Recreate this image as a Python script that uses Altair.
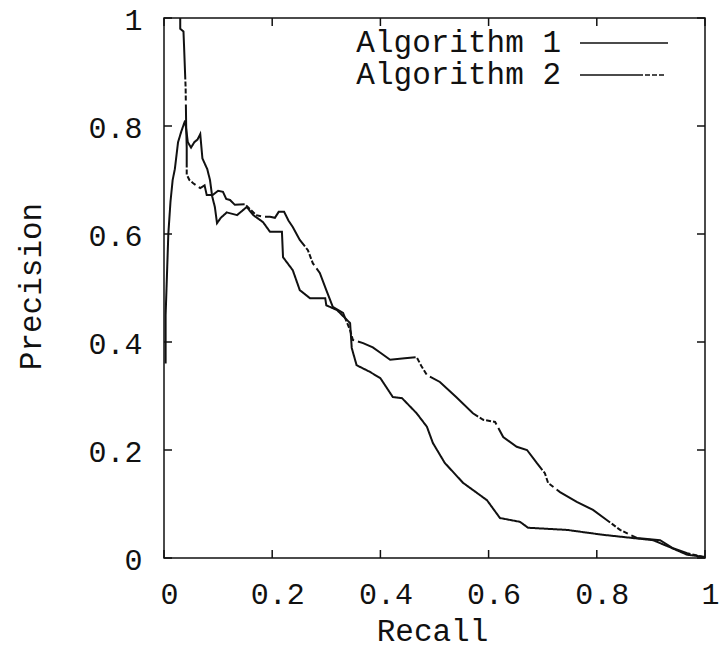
import altair as alt
import pandas as pd

series_names = ["Algorithm 1", "Algorithm 2"]
tick_values = [0, 0.2, 0.4, 0.6, 0.8, 1]

recall_1 = [0.003, 0.003, 0.005, 0.008, 0.012, 0.016, 0.020, 0.026, 0.032, 0.039,
            0.044, 0.050, 0.056, 0.062, 0.067, 0.071, 0.080, 0.085, 0.089, 0.094,
            0.098, 0.105, 0.116, 0.135, 0.153, 0.165, 0.183, 0.196, 0.218, 0.220,
            0.238, 0.251, 0.270, 0.298, 0.300, 0.320, 0.344, 0.347, 0.356, 0.380,
            0.400, 0.423, 0.440, 0.467, 0.486, 0.497, 0.519, 0.553, 0.571, 0.597,
            0.621, 0.658, 0.673, 0.745, 0.811, 0.904, 0.935, 0.967, 1.000]
precision_1 = [0.360, 0.450, 0.510, 0.600, 0.660, 0.700, 0.720, 0.770, 0.790, 0.810,
               0.770, 0.760, 0.770, 0.775, 0.785, 0.740, 0.720, 0.700, 0.670, 0.650,
               0.620, 0.630, 0.640, 0.635, 0.650, 0.635, 0.622, 0.604, 0.604, 0.557,
               0.533, 0.496, 0.481, 0.481, 0.468, 0.459, 0.435, 0.389, 0.357, 0.345,
               0.333, 0.298, 0.296, 0.268, 0.243, 0.213, 0.176, 0.139, 0.126, 0.107,
               0.074, 0.067, 0.056, 0.052, 0.043, 0.033, 0.020, 0.006, 0.002]

recall_2 = [0.030, 0.030, 0.036, 0.037, 0.040, 0.041, 0.042, 0.042, 0.047, 0.054,
            0.067, 0.075, 0.079, 0.090, 0.100, 0.109, 0.115, 0.122, 0.131, 0.150,
            0.160, 0.170, 0.183, 0.196, 0.205, 0.212, 0.222, 0.230, 0.238, 0.251,
            0.266, 0.275, 0.288, 0.300, 0.312, 0.331, 0.344, 0.349, 0.368, 0.386,
            0.400, 0.418, 0.445, 0.467, 0.476, 0.486, 0.510, 0.540, 0.571, 0.590,
            0.612, 0.627, 0.652, 0.671, 0.689, 0.704, 0.710, 0.732, 0.763, 0.793,
            0.819, 0.843, 0.874, 0.917, 0.941, 0.967, 0.996]
precision_2 = [1.000, 0.980, 0.975, 0.950, 0.870, 0.800, 0.760, 0.710, 0.700, 0.694,
               0.685, 0.690, 0.672, 0.672, 0.680, 0.678, 0.665, 0.663, 0.654, 0.655,
               0.645, 0.635, 0.632, 0.632, 0.630, 0.641, 0.641, 0.625, 0.613, 0.589,
               0.570, 0.546, 0.528, 0.496, 0.465, 0.454, 0.422, 0.404, 0.398, 0.390,
               0.380, 0.367, 0.370, 0.372, 0.355, 0.339, 0.326, 0.298, 0.268, 0.256,
               0.252, 0.224, 0.206, 0.200, 0.176, 0.157, 0.139, 0.122, 0.104, 0.089,
               0.070, 0.052, 0.037, 0.033, 0.018, 0.009, 0.002]

rows = []
for name, rs, ps in [(series_names[0], recall_1, precision_1),
                     (series_names[1], recall_2, precision_2)]:
    for i, (r, p) in enumerate(zip(rs, ps)):
        rows.append({"Recall": r, "Precision": p, "Series": name, "order": i})
df = pd.DataFrame(rows)
ticks = pd.DataFrame({"Recall": tick_values, "Precision": tick_values})
legend_df = pd.DataFrame({"Series": series_names})

W, H = 541, 540
FONT = "Liberation Mono"
INK = "#111111"
DASHES = [[1, 0], [63, 2, 5, 2, 5, 2, 5, 4]]

xs = alt.Scale(domain=[0, 1], nice=False, zero=False)
ys = alt.Scale(domain=[0, 1], nice=False, zero=False)

x_axis = alt.Axis(
    values=tick_values, format="~g", title="Recall",
    titleFont=FONT, titleFontSize=31, titleFontWeight="normal", titleColor=INK,
    titleX=268, titleY=82, titleAlign="center", titleBaseline="alphabetic",
    labelFont=FONT, labelFontSize=30, labelColor=INK, labelPadding=21,
    labelOffset=5, labelFlush=False, labelOverlap=False,
    ticks=False, domain=False, grid=False)
y_axis = alt.Axis(
    values=tick_values, format="~g", title="Precision",
    titleFont=FONT, titleFontSize=31, titleFontWeight="normal", titleColor=INK,
    titleAngle=270, titleX=-133, titleY=268, titleAlign="center", titleBaseline="middle",
    labelFont=FONT, labelFontSize=30, labelColor=INK, labelPadding=22,
    labelOffset=2, labelFlush=False, labelOverlap=False,
    ticks=False, domain=False, grid=False)

X = alt.X("Recall:Q", scale=xs, axis=x_axis)
Y = alt.Y("Precision:Q", scale=ys, axis=y_axis)

lines = alt.Chart(df).mark_line(strokeWidth=2, color=INK).encode(
    x=X, y=Y,
    strokeDash=alt.StrokeDash("Series:N", scale=alt.Scale(domain=series_names, range=DASHES),
                              legend=None),
    order="order:Q",
)

tick_style = dict(color=INK, strokeWidth=1.5)
bottom_ticks = alt.Chart(ticks).mark_rule(**tick_style).encode(
    x=X, y=alt.value(H), y2=alt.value(H - 8))
top_ticks = alt.Chart(ticks).mark_rule(**tick_style).encode(
    x=X, y=alt.value(0), y2=alt.value(8))
left_ticks = alt.Chart(ticks).mark_rule(**tick_style).encode(
    y=Y, x=alt.value(0), x2=alt.value(8))
right_ticks = alt.Chart(ticks).mark_rule(**tick_style).encode(
    y=Y, x=alt.value(W), x2=alt.value(W - 8))

# gnuplot-style key: label on the left, line sample on the right
legend_layers = []
for i, name in enumerate(series_names):
    row_y = 25 + 32 * i
    legend_layers.append(
        alt.Chart(legend_df).transform_filter(alt.datum.Series == name)
        .mark_text(align="right", baseline="middle", font=FONT, fontSize=31, color=INK)
        .encode(text="Series:N", x=alt.value(397), y=alt.value(row_y)))
    legend_layers.append(
        alt.Chart(legend_df).transform_filter(alt.datum.Series == name)
        .mark_rule(color=INK, strokeWidth=1.5, strokeDash=DASHES[i])
        .encode(x=alt.value(416), x2=alt.value(504), y=alt.value(row_y)))

chart = alt.layer(lines, bottom_ticks, top_ticks, left_ticks, right_ticks,
                  *legend_layers).properties(
    width=W, height=H,
    background="white",
    padding={"left": 156, "top": 10, "right": 14, "bottom": 89},
    autosize=alt.AutoSizeParams(type="none"),
).configure_view(stroke=INK, strokeWidth=1.5)

chart.save("out.html", embed_options={"renderer": "svg", "actions": False})
